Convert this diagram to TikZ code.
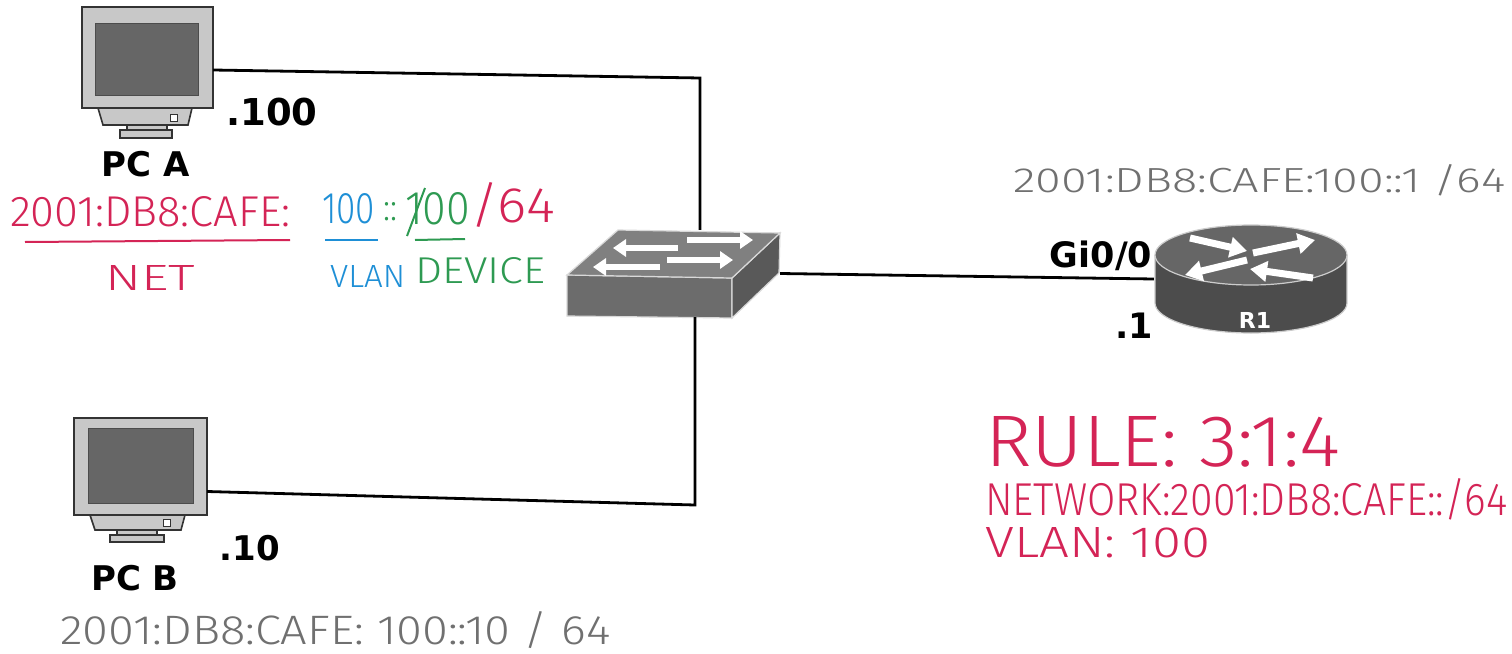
\documentclass[tikz,border=0pt]{standalone}
\usepackage{fontspec}
\setmainfont{DejaVu Sans}
\newfontfamily\handfont{Fira Sans Light}
\usetikzlibrary{arrows.meta}
\definecolor{hred}{HTML}{D42456}
\definecolor{hblue}{HTML}{1E8FD6}
\definecolor{hgreen}{HTML}{2E9A52}
\definecolor{hgray}{HTML}{707070}
\definecolor{framegray}{HTML}{C8C8C8}
\definecolor{screengray}{HTML}{666666}
\newcommand\handtxt[3]{\resizebox{#1}{#2}{\handfont #3}}
\begin{document}
\begin{tikzpicture}[x=1pt,y=-1pt,
  link/.style={line width=2.8pt,black},
  lbl/.style={font=\bfseries\fontsize{34}{36}\selectfont,inner sep=0pt},
  hw/.style={inner sep=0pt,anchor=west},
  devbox/.style={inner sep=0pt,draw=none},
  monframe/.style={fill=framegray,draw=black!80,line width=1.6pt},
  screen/.style={fill=screengray,draw=black!70,line width=1pt},
  wharrow/.style={line width=6pt,white,-{Triangle[width=17pt,length=13pt]}},
  rarrow/.style={line width=7pt,white,-{Triangle[width=20pt,length=17pt]}}
]
\useasboundingbox (0,0) rectangle (1512,653);
\fill[white] (0,0) rectangle (1512,653);

% ---------- PC A ----------
\node[devbox,minimum width=131pt,minimum height=101pt] (pca) at (147.5,57.5) {};
\draw[monframe] (pca.north west) rectangle (pca.south east);
\draw[screen] (95,23) rectangle (198,95);
\draw[monframe] (98,108) -- (192,108) -- (188,125) -- (103,125) -- cycle;
\draw[black!80,line width=1pt,fill=white] (170,114) rectangle (177,121);
\draw[monframe] (127,125) rectangle (167,130);
\draw[monframe] (120,130) rectangle (172,138);
\node[lbl] (pcalbl) at (146,164) {PC A};
\node[lbl,font=\bfseries\fontsize{37}{40}\selectfont] (ipa) at (272,112) {.100};

% ---------- PC B ----------
\node[devbox,minimum width=133pt,minimum height=97pt] (pcb) at (140.5,466.5) {};
\draw[monframe] (pcb.north west) rectangle (pcb.south east);
\draw[screen] (88,428) rectangle (193,503);
\draw[monframe] (90,515) -- (185,515) -- (181,530) -- (95,530) -- cycle;
\draw[black!80,line width=1pt,fill=white] (163,519) rectangle (170,526);
\draw[monframe] (117,530) rectangle (157,535);
\draw[monframe] (110,535) rectangle (164,542);
\node[lbl] (pcblbl) at (135,578) {PC B};
\node[lbl] (ipb) at (250,548) {.10};

% ---------- Switch ----------
\node[devbox,minimum width=213pt,minimum height=87pt] (sw) at (673.5,273.5) {};
\draw[fill=gray!85!black,draw=white!85!black,line width=1.2pt]
  (567,275) -- (732,278) -- (732,318) -- (567,316) -- cycle;
\draw[fill=gray!70!black,draw=white!85!black,line width=1.2pt]
  (732,278) -- (780,233) -- (779,273) -- (732,318) -- cycle;
\draw[fill=gray,draw=white!85!black,line width=1.2pt]
  (567,275) -- (618,230) -- (780,233) -- (732,278) -- cycle;
\draw[wharrow] (678,248) -- (613,248);
\draw[wharrow] (687,240) -- (753,240);
\draw[wharrow] (660,267) -- (593,267);
\draw[wharrow] (667,260) -- (733,260);

% ---------- Router ----------
\node[devbox,minimum width=194pt,minimum height=108pt] (r1) at (1251,279) {};
\fill[gray!60!black] (1251,303) ellipse [x radius=96, y radius=30];
\fill[gray!60!black] (1155,255) rectangle (1347,303);
\draw[white!80!black,line width=1.2pt] (1155,255) -- (1155,303)
  arc[start angle=180,end angle=0,x radius=96,y radius=30] -- (1347,255);
\draw[fill=gray!80!black,draw=white!80!black,line width=1.2pt]
  (1251,255) ellipse [x radius=96, y radius=30];
\draw[rarrow] (1190,238) -- (1247,251);
\draw[rarrow] (1247,260) -- (1185,275);
\draw[rarrow] (1253,253) -- (1315,240);
\draw[rarrow] (1313,278) -- (1250,269);
\node[lbl,white,font=\bfseries\fontsize{22}{24}\selectfont] (r1lbl) at (1255,320) {R1};
\node[lbl,font=\bfseries\fontsize{35}{37}\selectfont] (gi) at (1101,256) {Gi0/0};
\node[lbl,font=\bfseries\fontsize{35}{37}\selectfont] (ipr) at (1134,326) {.1};

% ---------- Links ----------
\coordinate (c1) at (700,78);
\coordinate (c2) at (695,505);
\draw[link] ([yshift=-12.5pt]pca.east) -- (c1) -- (c1 |- sw.north);
\draw[link] (sw.south -| c2) -- (c2) -- ([yshift=-25pt]pcb.east);
\draw[link] (sw.east) -- (r1.west);

% ---------- Handwriting ----------
\node[hw,hred] (neta) at (10,212) {\handtxt{280pt}{30pt}{2001:DB8:CAFE:}};
\node[hw,hblue] (vla) at (322,209) {\handtxt{53pt}{30pt}{100}};
\node[hw,hgreen] (colo) at (383,212) {\handtxt{14pt}{18pt}{::}};
\node[hw,hgreen] (deva) at (405,209) {\handtxt{65pt}{32pt}{100}};
\draw[hgreen,line width=2pt] (407,236) -- (425,188);
\node[hw,hred] (pfxa) at (470,205) {\handtxt{85pt}{40pt}{/64}};
\draw[hred,line width=2pt] (25,242) -- (290,240);
\draw[hblue,line width=2pt] (325,240) -- (378,240);
\draw[hgreen,line width=2pt] (415,240) -- (465,239);
\node[hw,hred] (netlbl) at (105,278) {\handtxt{90pt}{25pt}{NET}};
\node[hw,hblue] (vlanlbl) at (330,276) {\handtxt{75pt}{22pt}{VLAN}};
\node[hw,hgreen] (devlbl) at (415,271) {\handtxt{130pt}{26pt}{DEVICE}};

\node[hw,hgray] (ipr1) at (1013,180) {\handtxt{492pt}{28pt}{2001:DB8:CAFE:100::1 /64}};
\node[hw,hgray] (ipb1) at (60,630) {\handtxt{550pt}{33pt}{2001:DB8:CAFE: 100::10 / 64}};

\node[hw,hred] (rule) at (985,442) {\handtxt{355pt}{50pt}{RULE: 3:1:4}};
\node[hw,hred] (network) at (985,499) {\handtxt{522pt}{37pt}{NETWORK:2001:DB8:CAFE::/64}};
\node[hw,hred] (vlan) at (985,543) {\handtxt{225pt}{30pt}{VLAN: 100}};
\end{tikzpicture}
\end{document}
